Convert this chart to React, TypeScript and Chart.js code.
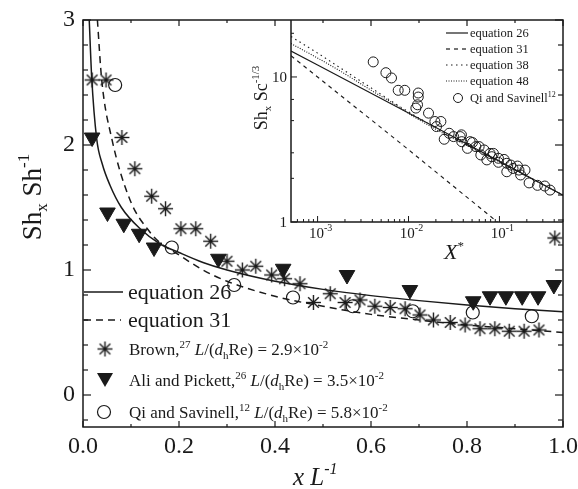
import React, { useEffect, useRef } from 'react';
import { Chart, registerables } from 'chart.js';

Chart.register(...registerables);

const FONT = '"Liberation Serif", "Times New Roman", serif';
const INK = '#1a1a1a';

// ---------- main chart data ----------
const eq26X = [0.013, 0.018, 0.0285, 0.04, 0.056, 0.08, 0.119, 0.16, 0.2, 0.25, 0.3, 0.4, 0.5, 0.6, 0.7, 0.8, 0.9, 1.0];
const eq26Y = [3.0, 2.55, 2.05, 1.85, 1.68, 1.5, 1.33, 1.21, 1.14, 1.06, 1.0, 0.91, 0.845, 0.795, 0.755, 0.72, 0.69, 0.665];

const eq31X = [0.03, 0.039, 0.06, 0.098, 0.14, 0.16, 0.2, 0.25, 0.3, 0.4, 0.5, 0.6, 0.7, 0.8, 0.9, 1.0];
const eq31Y = [3.0, 2.52, 2.05, 1.56, 1.3, 1.22, 1.12, 1.0, 0.91, 0.79, 0.71, 0.645, 0.6, 0.56, 0.53, 0.5];

const brownX = [0.019, 0.048, 0.081, 0.108, 0.143, 0.172, 0.204, 0.235, 0.266, 0.3, 0.332, 0.36, 0.393, 0.42, 0.452, 0.48, 0.515, 0.546, 0.577, 0.608, 0.64, 0.671, 0.702, 0.73, 0.765, 0.796, 0.827, 0.858, 0.888, 0.919, 0.95, 0.983];
const brownY = [2.52, 2.52, 2.06, 1.81, 1.59, 1.49, 1.33, 1.33, 1.23, 1.07, 1.0, 1.03, 0.96, 0.93, 0.89, 0.74, 0.81, 0.74, 0.76, 0.71, 0.7, 0.69, 0.64, 0.6, 0.58, 0.56, 0.53, 0.53, 0.51, 0.51, 0.52, 1.256];

const aliX = [0.019, 0.051, 0.085, 0.117, 0.148, 0.282, 0.417, 0.55, 0.681, 0.813, 0.848, 0.881, 0.915, 0.948, 0.981];
const aliY = [2.06, 1.46, 1.37, 1.29, 1.18, 1.09, 1.01, 0.96, 0.84, 0.75, 0.79, 0.79, 0.79, 0.79, 0.88];

const qiX = [0.067, 0.185, 0.315, 0.4375, 0.562, 0.687, 0.812, 0.935];
const qiY = [2.48, 1.18, 0.88, 0.78, 0.71, 0.67, 0.66, 0.63];

const mainXTicks = [0, 0.2, 0.4, 0.6, 0.8, 1.0];
const mainXTickLabels = ['0.0', '0.2', '0.4', '0.6', '0.8', '1.0'];
const mainXMinor = [0.1, 0.3, 0.5, 0.7, 0.9];
const mainYTicks = [0, 1, 2, 3];
const mainYTickLabels = ['0', '1', '2', '3'];
const mainYMinor = [-0.2, 0.2, 0.4, 0.6, 0.8, 1.2, 1.4, 1.6, 1.8, 2.2, 2.4, 2.6, 2.8];

// ---------- inset data ----------
const in26X = [5.1e-4, 1e-3, 1e-2, 0.1, 0.5];
const in26Y = [15.1, 12.1, 5.65, 2.62, 1.53];
const in31X = [5.1e-4, 1e-3, 1e-2, 0.095];
const in31Y = [14.0, 10.0, 3.15, 1.0];
const in38X = [5.1e-4, 1e-3, 2e-3, 4e-3, 7e-3, 1e-2, 0.02, 0.1, 0.5];
const in38Y = [19.0, 14.6, 11.0, 8.3, 6.6, 5.75, 4.45, 2.62, 1.53];
const in48X = [5.1e-4, 1e-3, 2e-3, 4e-3, 7e-3, 1e-2, 0.02, 0.1, 0.5];
const in48Y = [17.0, 13.5, 10.5, 8.0, 6.5, 5.6, 4.35, 2.6, 1.53];

const inQiX = [0.00409, 0.00564, 0.0065, 0.0077, 0.0091, 0.0128, 0.0128, 0.01256, 0.01205, 0.0166, 0.0195, 0.0203, 0.0227, 0.0247, 0.028, 0.0313, 0.037, 0.0382, 0.0385, 0.0445, 0.0476, 0.0505, 0.055, 0.0598, 0.0624, 0.0679, 0.0727, 0.0789, 0.0824, 0.0859, 0.0975, 0.0975, 0.1125, 0.1205, 0.1205, 0.133, 0.141, 0.158, 0.164, 0.171, 0.191, 0.212, 0.262, 0.315, 0.36];
const inQiY = [12.7, 10.7, 9.84, 8.09, 8.09, 7.75, 7.27, 6.43, 6.1, 5.63, 4.93, 4.55, 4.93, 3.72, 4.09, 3.88, 3.88, 3.99, 3.58, 3.22, 3.58, 3.53, 3.31, 3.31, 2.9, 3.14, 2.68, 2.97, 2.82, 2.97, 2.75, 2.58, 2.7, 2.54, 2.22, 2.47, 2.34, 2.43, 2.28, 2.11, 2.28, 1.86, 1.79, 1.77, 1.66];

const inXTicks = [1e-3, 1e-2, 1e-1];
const inXTickExp = ['-3', '-2', '-1'];
const inYTicks = [1, 10];
const inYTickLabels = ['1', '10'];
const inYMinor = [2, 3, 5, 7, 20];

const pts = (xs: number[], ys: number[]) => xs.map((x, i) => ({ x, y: ys[i] }));

type Seg = [string, number, boolean?, number?];

function setFont(ctx: CanvasRenderingContext2D, size: number, italic?: boolean) {
  ctx.font = `${italic ? 'italic ' : ''}${size}px ${FONT}`;
}

function drawRich(ctx: CanvasRenderingContext2D, x: number, y: number, segs: Seg[], align: 'left' | 'center' | 'right' = 'left') {
  ctx.textBaseline = 'alphabetic';
  ctx.textAlign = 'left';
  let w = 0;
  for (const s of segs) { setFont(ctx, s[1], s[2]); w += ctx.measureText(s[0]).width; }
  let cx = align === 'left' ? x : align === 'center' ? x - w / 2 : x - w;
  for (const s of segs) {
    setFont(ctx, s[1], s[2]);
    ctx.fillText(s[0], cx, y + (s[3] || 0));
    cx += ctx.measureText(s[0]).width;
  }
}

function makeAsterisk(r: number): HTMLCanvasElement {
  const s = 19;
  const c = document.createElement('canvas');
  c.width = s; c.height = s;
  const g = c.getContext('2d')!;
  g.strokeStyle = INK; g.lineWidth = 1.4;
  const m = s / 2;
  for (let k = 0; k < 4; k++) {
    const a = (k * Math.PI) / 4;
    g.beginPath();
    g.moveTo(m - r * Math.cos(a), m - r * Math.sin(a));
    g.lineTo(m + r * Math.cos(a), m + r * Math.sin(a));
    g.stroke();
  }
  g.fillStyle = INK;
  g.beginPath(); g.arc(m, m, 1.8, 0, Math.PI * 2); g.fill();
  return c;
}

export default function App() {
  const mainRef = useRef<HTMLCanvasElement>(null);
  const insetRef = useRef<HTMLCanvasElement>(null);

  useEffect(() => {
    const star = makeAsterisk(7.5);

    const mainDeco = {
      id: 'mainDeco',
      afterDraw(chart: any) {
        const ctx: CanvasRenderingContext2D = chart.ctx;
        const { left, right, top, bottom } = chart.chartArea;
        const xs = chart.scales.x;
        const ys = chart.scales.y;
        ctx.save();
        ctx.strokeStyle = INK;
        ctx.fillStyle = INK;
        ctx.lineWidth = 1.5;
        ctx.strokeRect(left, top, right - left, bottom - top);
        ctx.lineWidth = 1.2;
        const tick = (x1: number, y1: number, x2: number, y2: number) => {
          ctx.beginPath(); ctx.moveTo(x1, y1); ctx.lineTo(x2, y2); ctx.stroke();
        };
        mainYTicks.forEach((v) => { const p = ys.getPixelForValue(v); tick(left, p, left + 8, p); tick(right, p, right - 8, p); });
        mainYMinor.forEach((v) => { const p = ys.getPixelForValue(v); tick(left, p, left + 5, p); tick(right, p, right - 5, p); });
        mainXTicks.forEach((v) => { const p = xs.getPixelForValue(v); tick(p, bottom, p, bottom - 6); tick(p, top, p, top + 6); });
        mainXMinor.forEach((v) => { const p = xs.getPixelForValue(v); tick(p, bottom, p, bottom - 3); tick(p, top, p, top + 3); });

        // tick labels
        setFont(ctx, 24);
        ctx.textAlign = 'right'; ctx.textBaseline = 'middle';
        mainYTicks.forEach((v, i) => ctx.fillText(mainYTickLabels[i], left - 8, ys.getPixelForValue(v)));
        ctx.textAlign = 'center';
        mainXTicks.forEach((v, i) => ctx.fillText(mainXTickLabels[i], xs.getPixelForValue(v), bottom + 20));

        // axis titles
        drawRich(ctx, 293, 485, [['x', 25, true], [' ', 25], ['L', 25, true], ['-1', 16, true, -11]], 'left');
        ctx.save();
        ctx.translate(41, 197);
        ctx.rotate(-Math.PI / 2);
        drawRich(ctx, 0, 0, [['Sh', 27], ['x', 17, false, 6], [' Sh', 27], ['-1', 17, false, -12]], 'center');
        ctx.restore();

        // legend
        ctx.lineWidth = 1.5;
        ctx.beginPath(); ctx.moveTo(84, 292); ctx.lineTo(123, 292); ctx.stroke();
        ctx.setLineDash([7, 5]);
        ctx.beginPath(); ctx.moveTo(84, 320); ctx.lineTo(121, 320); ctx.stroke();
        ctx.setLineDash([]);
        drawRich(ctx, 128, 299, [['equation 26', 22]]);
        drawRich(ctx, 128, 327, [['equation 31', 22]]);

        ctx.drawImage(star, 105 - 9.5, 349 - 9.5);
        ctx.beginPath();
        ctx.moveTo(105 - 8, 373); ctx.lineTo(105 + 8, 373); ctx.lineTo(105, 387); ctx.closePath(); ctx.fill();
        ctx.lineWidth = 1.2;
        ctx.beginPath(); ctx.arc(104, 412, 6.5, 0, Math.PI * 2); ctx.stroke();

        const tail = (val: string): Seg[] => [[' ', 17], ['L', 17, true], ['/(', 17], ['d', 17, true], ['h', 11, false, 4], ['Re) = ' + val + '×10', 17], ['-2', 11, false, -7]];
        drawRich(ctx, 129, 355, [['Brown,', 17], ['27', 11, false, -7], ...tail('2.9')]);
        drawRich(ctx, 129, 386, [['Ali and Pickett,', 17], ['26', 11, false, -7], ...tail('3.5')]);
        drawRich(ctx, 129, 418, [['Qi and Savinell,', 17], ['12', 11, false, -7], ...tail('5.8')]);
        ctx.restore();
      },
    };

    const main = new Chart(mainRef.current!, {
      type: 'scatter',
      data: {
        datasets: [
          { label: 'equation 26', data: pts(eq26X, eq26Y), showLine: true, borderColor: INK, borderWidth: 1.5, pointRadius: 0, cubicInterpolationMode: 'monotone', fill: false } as any,
          { label: 'equation 31', data: pts(eq31X, eq31Y), showLine: true, borderColor: INK, borderWidth: 1.5, borderDash: [7, 5], pointRadius: 0, cubicInterpolationMode: 'monotone', fill: false } as any,
          { label: 'Brown', data: pts(brownX, brownY), pointStyle: star, pointRadius: 7, showLine: false } as any,
          { label: 'Ali and Pickett', data: pts(aliX, aliY), pointStyle: 'triangle', pointRotation: 180, pointRadius: 9, backgroundColor: INK, borderColor: INK, borderWidth: 1, showLine: false } as any,
          { label: 'Qi and Savinell', data: pts(qiX, qiY), pointStyle: 'circle', pointRadius: 6.5, backgroundColor: 'rgba(0,0,0,0)', borderColor: INK, borderWidth: 1.2, showLine: false } as any,
        ],
      },
      options: {
        responsive: false,
        animation: false,
        events: [],
        layout: { padding: { left: 83, top: 20, right: 15, bottom: 62 } },
        plugins: { legend: { display: false }, tooltip: { enabled: false } },
        scales: {
          x: { type: 'linear', display: false, min: 0, max: 1 },
          y: { type: 'linear', display: false, min: -0.256, max: 3 },
        },
      },
      plugins: [mainDeco],
    });

    const insetDeco = {
      id: 'insetDeco',
      afterDraw(chart: any) {
        const ctx: CanvasRenderingContext2D = chart.ctx;
        const { left, right, top, bottom } = chart.chartArea;
        const xs = chart.scales.x;
        const ys = chart.scales.y;
        ctx.save();
        ctx.strokeStyle = INK; ctx.fillStyle = INK;
        ctx.lineWidth = 1.5;
        ctx.beginPath(); ctx.moveTo(left, top); ctx.lineTo(left, bottom); ctx.lineTo(right, bottom); ctx.stroke();
        ctx.lineWidth = 1;
        const tick = (x1: number, y1: number, x2: number, y2: number) => {
          ctx.beginPath(); ctx.moveTo(x1, y1); ctx.lineTo(x2, y2); ctx.stroke();
        };
        for (let e = -4; e <= 0; e++) {
          for (let m = 1; m <= 9; m++) {
            const v = m * Math.pow(10, e);
            if (v < xs.min || v > xs.max) continue;
            const p = xs.getPixelForValue(v);
            tick(p, bottom, p, bottom - (m === 1 ? 6 : 3));
          }
        }
        inYTicks.forEach((v) => { const p = ys.getPixelForValue(v); tick(left, p, left + 6, p); });
        inYMinor.forEach((v) => { const p = ys.getPixelForValue(v); tick(left, p, left + 3, p); });

        inXTicks.forEach((v, i) => {
          drawRich(ctx, xs.getPixelForValue(v) + 3, bottom + 16, [['10', 15], [inXTickExp[i], 10, false, -7]], 'center');
        });
        inYTicks.forEach((v, i) => {
          drawRich(ctx, left - 4, ys.getPixelForValue(v) + 5, [[inYTickLabels[i], 15]], 'right');
        });

        drawRich(ctx, 224, 259, [['X', 22, true], ['*', 13, false, -9]], 'center');
        ctx.save();
        ctx.translate(37, 98);
        ctx.rotate(-Math.PI / 2);
        drawRich(ctx, 0, 0, [['Sh', 18], ['x', 11, false, 4], [' Sc', 18], ['-1/3', 11, false, -8]], 'center');
        ctx.restore();

        // legend
        const lx1 = 216, lx2 = 238, tx = 240;
        const rows = [33, 49, 65, 81];
        const dashes = [[], [4, 4], [1.5, 3.5], [1, 1.5]];
        const names = ['equation 26', 'equation 31', 'equation 38', 'equation 48'];
        rows.forEach((ry, i) => {
          ctx.setLineDash(dashes[i]);
          ctx.lineWidth = 1.2;
          ctx.beginPath(); ctx.moveTo(lx1, ry); ctx.lineTo(lx2, ry); ctx.stroke();
          ctx.setLineDash([]);
          drawRich(ctx, tx, ry + 4, [[names[i], 12.5]]);
        });
        ctx.lineWidth = 1;
        ctx.beginPath(); ctx.arc(228, 98, 4.5, 0, Math.PI * 2); ctx.stroke();
        drawRich(ctx, tx, 102, [['Qi and Savinell', 12.5], ['12', 8, false, -5]]);
        ctx.restore();
      },
    };

    const inset = new Chart(insetRef.current!, {
      type: 'scatter',
      data: {
        datasets: [
          { label: 'equation 26', data: pts(in26X, in26Y), showLine: true, borderColor: INK, borderWidth: 1.2, pointRadius: 0, fill: false } as any,
          { label: 'equation 31', data: pts(in31X, in31Y), showLine: true, borderColor: INK, borderWidth: 1.1, borderDash: [4, 4], pointRadius: 0, fill: false } as any,
          { label: 'equation 38', data: pts(in38X, in38Y), showLine: true, borderColor: INK, borderWidth: 1.1, borderDash: [1.5, 3.5], pointRadius: 0, cubicInterpolationMode: 'monotone', fill: false } as any,
          { label: 'equation 48', data: pts(in48X, in48Y), showLine: true, borderColor: INK, borderWidth: 1.1, borderDash: [1, 1.5], pointRadius: 0, cubicInterpolationMode: 'monotone', fill: false } as any,
          { label: 'Qi and Savinell', data: pts(inQiX, inQiY), pointStyle: 'circle', pointRadius: 5, backgroundColor: 'rgba(0,0,0,0)', borderColor: INK, borderWidth: 1, showLine: false } as any,
        ],
      },
      options: {
        responsive: false,
        animation: false,
        events: [],
        layout: { padding: { left: 61, top: 20, right: 15, bottom: 40 } },
        plugins: { legend: { display: false }, tooltip: { enabled: false } },
        scales: {
          x: { type: 'logarithmic', display: false, min: 5.1e-4, max: 0.5 },
          y: { type: 'logarithmic', display: false, min: 1, max: 24.7 },
        },
      },
      plugins: [insetDeco],
    });

    return () => { main.destroy(); inset.destroy(); };
  }, []);

  return (
    <div style={{ position: 'absolute', left: 0, top: 0, width: 578, height: 489, background: '#fff' }}>
      <canvas ref={mainRef} width={578} height={489} style={{ position: 'absolute', left: 0, top: 0, width: 578, height: 489 }} />
      <canvas ref={insetRef} width={348} height={262} style={{ position: 'absolute', left: 230, top: 0, width: 348, height: 262 }} />
    </div>
  );
}
